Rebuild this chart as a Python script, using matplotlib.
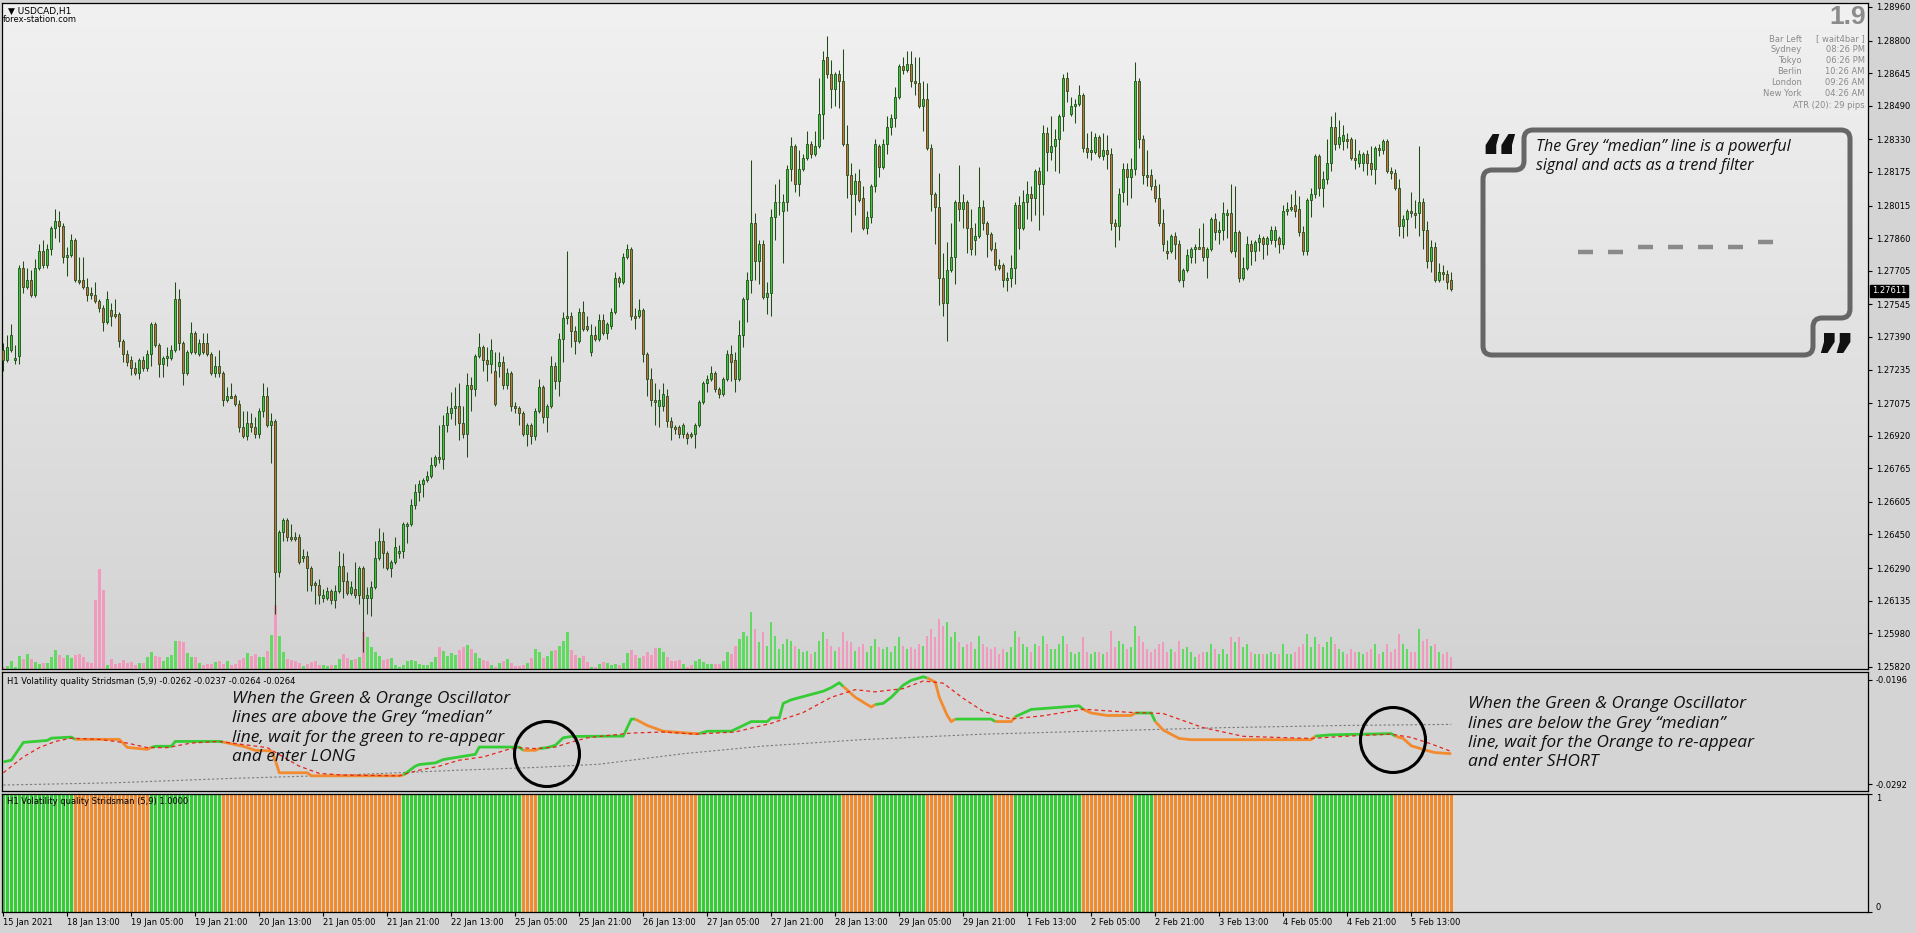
import numpy as np
import matplotlib
matplotlib.use('Agg')
import matplotlib.pyplot as plt
from matplotlib.transforms import Affine2D, blended_transform_factory
from matplotlib.patches import PathPatch, Circle
from matplotlib.path import Path
from matplotlib.lines import Line2D
import matplotlib.colors as mcolors

# ---------------- DATA (prices in pips above 1.2500) ----------------
BASE = 1.25
open_p = [
    233,228,233,228,230,272,263,266,259,272, 280,273,281,291,294,292,277,278,285,266,
    266,263,260,259,256,253,246,252,250,250, 237,231,228,224,222,228,224,231,245,235,
    226,229,229,233,257,236,222,232,241,231, 236,236,231,222,225,222,209,211,211,207,
    196,192,198,196,193,204,211,197,199,127, 146,152,144,144,144,134,135,129,122,121,
    115,115,118,114,118,130,123,117,119,116, 129,115,115,120,134,142,136,129,132,136,
    137,149,150,159,165,169,171,173,178,182, 181,197,203,205,206,198,193,216,214,230,
    234,228,226,223,225,227,216,222,206,205, 203,193,197,192,204,215,201,206,225,218,
    238,248,249,242,237,251,244,232,240,238, 247,241,244,251,267,265,277,281,249,249,
    252,231,219,209,206,206,211,199,196,196, 193,193,193,193,197,208,217,219,222,214,
    212,219,231,228,219,240,257,266,293,275, 283,258,260,296,303,299,303,319,330,312,
    319,324,331,326,330,345,372,364,357,364, 361,331,316,307,313,305,291,296,311,330,
    320,331,339,343,353,368,366,369,361,360, 349,352,329,307,301,267,255,271,277,303,
    300,303,291,285,287,301,293,288,281,273, 273,266,267,272,302,291,303,307,305,318,
    312,336,327,330,333,344,362,345,349,350, 354,329,327,327,334,325,328,326,293,292,
    308,319,315,319,361,333,316,316,311,305, 293,280,280,287,283,266,271,277,281,282,
    282,277,281,295,289,290,297,298,280,289, 267,272,283,280,284,286,283,285,285,286,
    283,299,300,302,300,289,280,304,307,325, 310,314,322,339,331,332,333,333,324,322,
    322,326,322,319,329,328,332,318,317,310, 292,295,299,298,298,303,290,275,282,266,
    270,269,266]
close_p = [
    228,234,240,229,272,263,266,259,272,280, 273,281,291,294,292,277,278,285,266,265,
    263,259,259,256,253,246,257,249,249,237, 231,227,224,222,228,224,231,245,235,226,
    229,230,233,257,236,222,232,241,232,236, 232,231,222,225,222,209,211,210,207,196,
    192,198,196,193,204,211,197,199,127,146, 152,144,143,143,132,135,129,121,121,116,
    116,118,114,118,130,123,117,120,116,129, 115,116,120,134,142,136,129,132,139,137,
    150,150,159,165,169,171,173,178,182,181, 197,203,205,206,198,193,216,214,230,234,
    228,226,233,207,227,216,222,206,205,203, 193,197,192,204,215,201,206,225,218,238,
    248,249,242,237,251,243,243,240,238,247, 241,245,251,267,265,277,281,249,248,252,
    231,219,209,208,209,212,199,196,195,193, 197,191,192,197,208,217,219,222,214,212,
    219,231,227,219,240,257,266,293,275,283, 258,260,296,303,303,303,319,330,312,319,
    324,331,326,330,345,371,364,357,364,361, 331,316,307,313,304,291,296,311,331,320,
    331,339,343,353,368,366,369,361,360,349, 352,329,307,301,267,255,271,277,303,300,
    303,291,281,287,301,293,288,281,273,272, 266,267,272,302,291,303,307,305,318,312,
    336,327,330,333,344,362,356,349,350,354, 329,327,328,334,325,328,326,293,292,307,
    319,315,319,361,333,316,315,311,305,293, 283,279,287,283,266,271,278,281,282,281,
    277,281,295,289,290,298,298,280,289,267, 272,283,280,284,286,283,286,290,290,283,
    299,300,301,299,289,280,304,307,325,310, 314,322,339,331,334,335,332,324,323,326,
    326,322,319,329,328,332,318,317,310,292, 295,299,298,297,303,290,275,282,266,270,
    269,265,262]
high_p = [
    236,240,245,235,273,275,272,271,276,283, 285,283,292,300,299,293,282,288,286,277,
    277,267,263,265,257,254,261,255,257,251, 238,233,230,227,229,230,233,246,246,236,
    230,234,235,265,262,237,233,246,242,238, 241,241,232,230,233,223,215,217,212,209,
    204,204,203,201,205,217,215,203,200,147, 153,153,150,146,145,138,137,130,123,124,
    119,120,119,121,137,136,127,123,132,130, 130,120,123,142,148,146,137,133,144,140,
    151,151,162,169,171,172,175,182,183,197, 202,206,213,215,217,206,222,220,231,241,
    235,234,238,232,232,230,224,223,208,206, 204,198,198,205,219,216,207,230,227,241,
    251,280,251,244,253,256,249,245,244,250, 250,246,253,270,268,279,283,282,253,257,
    253,232,224,217,214,217,214,201,197,197, 198,194,194,198,209,218,221,225,223,215,
    220,233,235,232,247,258,270,323,298,285, 285,265,300,312,314,307,321,334,331,328,
    326,337,332,337,362,375,382,371,365,366, 376,340,322,317,319,311,299,312,333,331,
    333,344,345,358,369,372,375,375,372,372, 361,360,331,308,317,279,284,293,304,321,
    307,304,300,293,320,304,294,289,284,276, 274,270,278,303,306,309,313,311,319,320,
    340,339,344,338,345,364,365,353,352,359, 355,336,337,336,335,336,335,329,295,310,
    322,322,324,370,362,335,328,319,314,312, 300,285,288,289,285,272,281,282,283,291,
    293,282,296,298,294,303,300,312,311,290, 277,287,285,285,288,287,287,292,292,287,
    302,303,307,309,306,292,305,310,326,326, 318,333,344,346,342,340,336,334,333,328,
    327,328,330,330,331,333,333,320,319,314, 297,300,308,304,330,305,294,285,284,274,
    273,271,270]
low_p = [
    223,227,232,226,226,260,262,258,258,271, 272,272,278,286,284,274,268,277,265,264,
    262,256,257,255,251,242,245,244,248,234, 227,225,221,221,219,223,223,225,234,220,
    220,225,228,232,233,216,221,231,231,230, 231,230,221,220,220,206,208,210,206,194,
    191,190,194,191,191,201,196,179,107,125, 142,142,142,142,131,132,118,118,112,112,
    113,114,112,110,117,115,116,116,115,112, 89,107,106,119,133,129,128,125,131,134,
    134,141,149,157,161,163,170,172,177,179, 176,194,200,197,190,191,182,204,211,229,
    223,218,222,206,220,214,214,204,203,197, 192,187,188,190,203,198,194,205,214,211,
    227,245,234,231,236,242,242,230,237,237, 240,238,243,250,263,264,276,247,243,248,
    227,211,206,197,196,204,196,190,193,191, 191,188,191,186,196,207,213,218,213,210,
    211,218,218,213,218,234,246,260,266,264, 257,250,249,285,297,274,299,313,308,306,
    318,323,324,325,329,333,362,348,349,348, 330,305,289,297,303,290,288,293,308,315,
    319,326,335,339,352,364,365,358,354,348, 337,328,299,283,254,249,237,270,264,294,
    291,279,278,278,286,290,277,280,271,271, 263,261,263,264,281,290,295,294,297,290,
    297,318,323,318,317,337,351,344,341,349, 327,324,323,326,324,323,319,290,282,285,
    303,302,305,316,329,312,311,309,303,292, 280,276,279,276,265,263,270,274,274,281,
    275,267,280,285,283,285,286,279,277,265, 266,271,273,275,280,276,278,283,282,279,
    281,297,299,296,287,278,278,296,305,306, 301,312,318,328,329,328,329,323,319,320,
    318,316,316,312,325,326,317,314,309,287, 286,287,296,291,287,281,272,270,265,265,
    266,262,261]
tick_volume = [
    5,8,25,7,40,30,45,30,22,15, 18,18,37,58,43,33,42,33,42,45,
    37,22,18,208,300,237,13,30,15,18, 27,18,22,13,18,18,37,50,40,35,
    25,35,43,85,85,80,48,37,37,18, 12,15,15,22,25,15,25,12,15,27,
    33,48,40,45,37,37,55,103,193,100, 52,30,27,25,18,10,15,22,25,13,
    12,10,12,13,30,45,33,27,30,37, 112,97,65,50,40,27,30,32,13,5,
    13,23,28,25,15,13,13,20,35,65, 53,38,47,43,57,65,73,60,47,32,
    28,25,13,5,18,23,30,18,10,10, 13,18,33,60,52,33,40,55,58,70,
    85,112,58,43,32,38,20,5,7,15, 22,18,13,15,13,18,47,58,43,32,
    40,50,43,62,62,50,35,25,23,28, 15,7,13,25,30,22,15,15,15,15,
    25,52,45,70,90,110,100,170,120,80, 110,70,140,100,60,75,90,85,70,60,
    50,55,45,50,85,110,90,70,55,65, 110,85,80,55,65,75,50,70,90,65,
    60,65,50,70,95,70,60,65,60,75, 70,100,120,95,150,130,140,95,110,80,
    65,75,80,60,100,75,65,60,65,45, 60,50,65,115,95,75,65,50,75,70,
    100,75,60,60,75,100,75,50,45,50, 95,50,45,50,50,45,50,115,65,85,
    75,60,65,130,100,80,60,50,60,75, 80,50,60,50,85,60,65,50,35,45,
    50,50,75,60,45,60,45,95,80,95, 65,75,50,45,45,45,45,50,45,45,
    75,45,45,50,65,75,105,65,95,75, 65,80,95,75,60,50,45,60,50,50,
    45,50,60,75,45,50,75,50,60,105, 75,60,50,50,120,85,90,70,75,50,
    45,50,35]

price_ticks = [1.28960, 1.28800, 1.28645, 1.28490, 1.28330, 1.28175, 1.28015,
               1.27860, 1.27705, 1.27545, 1.27390, 1.27235, 1.27075, 1.26920,
               1.26765, 1.26605, 1.26450, 1.26290, 1.26135, 1.25980, 1.25820]
current_price = 1.27611

# Oscillator (Volatility quality Stridsman) – vertices (bar index, value)
osc_idx = [0, 2, 4, 5, 11, 12, 17,
           18, 29, 31, 36,
           37, 38, 42, 43, 54,
           55, 60, 63, 67, 68, 69, 76, 77, 99,
           100, 103, 104, 108, 110, 118, 119, 129,
           130, 133,
           134, 136, 138, 140, 142, 155, 157,
           158, 161, 165, 173,
           174, 176, 182, 187, 191, 192, 194, 195, 197, 205, 207, 209,
           210, 213, 217,
           218, 220, 222, 225, 227, 230,
           231, 233, 234, 236, 237,
           238, 247,
           248, 252,
           253, 257, 265, 269,
           270, 272, 276, 282,
           283, 287,
           288, 290, 294, 297, 327,
           328, 332, 347,
           348, 350, 352, 356, 358, 362]
osc_val = [-0.02716, -0.02700, -0.02591, -0.02536, -0.02518, -0.02497, -0.02487,
           -0.02508, -0.02508, -0.02582, -0.02600,
           -0.02582, -0.02572, -0.02572, -0.02527, -0.02527,
           -0.02533, -0.02572, -0.02609, -0.02615, -0.02700, -0.02816, -0.02816, -0.02844, -0.02844,
           -0.02837, -0.02755, -0.02740, -0.02725, -0.02694, -0.02646, -0.02579, -0.02579,
           -0.02609, -0.02609,
           -0.02593, -0.02584, -0.02563, -0.02493, -0.02481, -0.02478, -0.02321,
           -0.02321, -0.02380, -0.02433, -0.02455,
           -0.02455, -0.02433, -0.02433, -0.02344, -0.02344, -0.02310, -0.02310, -0.02176,
           -0.02143, -0.02064, -0.02031, -0.01986,
           -0.02020, -0.02120, -0.02210,
           -0.02187, -0.02176, -0.02120, -0.02008, -0.01964, -0.01931,
           -0.01942, -0.01980, -0.02120, -0.02288, -0.02344,
           -0.02321, -0.02321,
           -0.02344, -0.02344,
           -0.02299, -0.02232, -0.02210, -0.02199,
           -0.02232, -0.02265, -0.02288, -0.02288,
           -0.02265, -0.02265,
           -0.02344, -0.02422, -0.02500, -0.02511, -0.02511,
           -0.02478, -0.02466, -0.02455,
           -0.02478, -0.02500, -0.02567, -0.02612, -0.02630, -0.02640]
# trend state runs (first bar of each run; alternating up / down)
run_start = [0, 18, 37, 55, 100, 130, 134, 158, 174, 210, 218, 231, 238, 248,
             253, 270, 283, 288, 328, 348]
run_state = ['up', 'down'] * 10

sig_idx = [0, 5, 9, 13, 17, 24, 31, 36, 41, 47, 54, 57, 66, 70, 74, 79, 85, 99, 101,
           104, 109, 114, 120, 126, 129, 133, 138, 142, 146, 149, 157, 165, 173, 183,
           192, 200, 207, 213, 218, 225, 230, 235, 240, 245, 252, 260, 270, 282, 290,
           300, 310, 327, 335, 347, 352, 357, 362]
sig_val = [-0.02816, -0.0267, -0.02584, -0.02527, -0.02497, -0.02508, -0.02542, -0.02584,
           -0.02584, -0.02542, -0.02527, -0.02542, -0.02584, -0.0267, -0.02755, -0.02822,
           -0.02837, -0.02844, -0.02822, -0.02792, -0.02755, -0.0270, -0.0267, -0.02603,
           -0.02584, -0.02593, -0.02579, -0.02533, -0.02494, -0.02481, -0.0245, -0.0244,
           -0.0246, -0.0244, -0.0236, -0.0226, -0.0212, -0.0205, -0.0207, -0.0204, -0.0197,
           -0.0199, -0.0213, -0.0225, -0.0232, -0.0229, -0.0223, -0.0226, -0.0227, -0.0240,
           -0.0248, -0.0250, -0.0248, -0.0246, -0.0249, -0.0255, -0.0262]
med_idx = [0, 28, 57, 85, 114, 133, 149, 170, 190, 215, 245, 275, 305, 335, 362]
med_val = [-0.02929, -0.02908, -0.02868, -0.02837, -0.02792, -0.02767, -0.02737,
           -0.0264, -0.0257, -0.0251, -0.0246, -0.0243, -0.0240, -0.0238, -0.0237]

time_labels = ['15 Jan 2021', '18 Jan 13:00', '19 Jan 05:00', '19 Jan 21:00',
               '20 Jan 13:00', '21 Jan 05:00', '21 Jan 21:00', '22 Jan 13:00',
               '25 Jan 05:00', '25 Jan 21:00', '26 Jan 13:00', '27 Jan 05:00',
               '27 Jan 21:00', '28 Jan 13:00', '29 Jan 05:00', '29 Jan 21:00',
               '1 Feb 13:00', '2 Feb 05:00', '2 Feb 21:00', '3 Feb 13:00',
               '4 Feb 05:00', '4 Feb 21:00', '5 Feb 13:00']
label_every = 16

# ---------------- FIGURE ----------------
W, H = 1916, 933
fig = plt.figure(figsize=(W / 100, H / 100), dpi=100)
fig.patch.set_facecolor('#d4d4d4')
PX = Affine2D().scale(1.0 / W, -1.0 / H).translate(0, 1) + fig.transFigure


def rect(top, bottom):
    return [2 / W, 1 - bottom / H, 1866 / W, (bottom - top) / H]


def rounded_path(pts, r):
    verts, codes = [], []
    m = len(pts)
    for k in range(m):
        p0 = np.array(pts[k - 1], float)
        p1 = np.array(pts[k], float)
        p2 = np.array(pts[(k + 1) % m], float)
        d1 = (p0 - p1) / np.linalg.norm(p0 - p1)
        d2 = (p2 - p1) / np.linalg.norm(p2 - p1)
        a = p1 + d1 * r
        b = p1 + d2 * r
        verts.append(a)
        codes.append(Path.MOVETO if k == 0 else Path.LINETO)
        verts += [p1, b]
        codes += [Path.CURVE3, Path.CURVE3]
    verts.append(verts[0])
    codes.append(Path.CLOSEPOLY)
    return Path(verts, codes)


XLIM = (-0.325, 466.2)
n = len(close_p)
xi = np.arange(n)
o = BASE + np.array(open_p) / 1e4
c = BASE + np.array(close_p) / 1e4
h = np.maximum.reduce([BASE + np.array(high_p) / 1e4, o, c])
l = np.minimum.reduce([BASE + np.array(low_p) / 1e4, o, c])
bull = c >= o

BULL = '#3cc83c'
BEAR = '#cc6f3e'
EDGE = '#1f4d17'
GREEN = '#35cc35'
ORANGE = '#f28a2e'

# volume layer with gradient background
axv = fig.add_axes(rect(3, 669))
grad = np.linspace(0, 1, 256).reshape(-1, 1)
cmap = mcolors.LinearSegmentedColormap.from_list('bg', ['#f1f1f1', '#d3d3d3'])
axv.imshow(grad, extent=[0, 1, 0, 1], transform=axv.transAxes, cmap=cmap,
           aspect='auto', zorder=0, interpolation='bilinear')
axv.bar(xi, tick_volume, width=0.62, color=np.where(bull, '#62da62', '#f09abd'),
        edgecolor='none', zorder=2)
axv.set_xlim(XLIM)
axv.set_ylim(0, 1998)
axv.axis('off')

# candles
ax = fig.add_axes(rect(3, 669))
ax.set_facecolor('none')
ax.vlines(xi, l, h, color=EDGE, lw=0.75, zorder=2)
ax.bar(xi, np.abs(c - o), bottom=np.minimum(o, c), width=0.55,
       color=np.where(bull, BULL, BEAR), edgecolor=EDGE, linewidth=0.6, zorder=3)
ax.set_xlim(XLIM)
ax.set_ylim(1.25810, 1.28979)
ax.yaxis.tick_right()
ax.set_yticks(price_ticks)
ax.set_yticklabels([f'{v:.5f}' for v in price_ticks])
ax.tick_params(axis='y', direction='out', length=3, width=0.8, pad=2.5,
               labelsize=6, colors='black')
ax.set_xticks([])
for s in ax.spines.values():
    s.set_color('black')
    s.set_linewidth(0.9)

trp = blended_transform_factory(PX, ax.transData)
ax.text(1872, current_price, f'{current_price:.5f}', transform=trp, ha='left',
        va='center', fontsize=6, color='white', zorder=10, clip_on=False,
        bbox=dict(boxstyle='square,pad=0.18', fc='black', ec='black'))

# oscillator panel
ax2 = fig.add_axes(rect(672, 791))
ax2.set_facecolor('#d4d4d4')
ax2.plot(med_idx, med_val, color='#7a7a7a', lw=0.8, ls=(0, (2, 2)), zorder=2)
oi = np.array(osc_idx)
ov = np.array(osc_val)
for k, a in enumerate(run_start):
    b = run_start[k + 1] if k + 1 < len(run_start) else n - 1
    m = (oi >= a) & (oi <= b)
    ax2.plot(oi[m], ov[m], color=GREEN if run_state[k] == 'up' else ORANGE,
             lw=2.0, zorder=3, solid_capstyle='butt')
ax2.plot(sig_idx, sig_val, color='#e5261d', lw=0.9, ls=(0, (3, 2.5)), zorder=4)
ax2.set_xlim(XLIM)
ax2.set_ylim(-0.02984, -0.01887)
ax2.yaxis.tick_right()
ax2.set_yticks([-0.0196, -0.0292])
ax2.set_yticklabels(['-0.0196', '-0.0292'])
ax2.tick_params(axis='y', direction='out', length=3, width=0.8, pad=2.5,
                labelsize=6, colors='black')
ax2.set_xticks([])
for s in ax2.spines.values():
    s.set_color('black')
    s.set_linewidth(0.9)

# state histogram panel
ax3 = fig.add_axes(rect(794, 912))
ax3.set_facecolor('#dadada')
state = np.empty(n, dtype=object)
for k, a in enumerate(run_start):
    b = run_start[k + 1] if k + 1 < len(run_start) else n
    state[a:b] = run_state[k]
ax3.bar(xi, np.ones(n), width=0.74, color=[GREEN if s == 'up' else ORANGE for s in state],
        zorder=2)
ax3.set_xlim(XLIM)
ax3.set_ylim(0, 1)
ax3.yaxis.tick_right()
ax3.set_yticks([0, 1])
ax3.set_yticklabels(['0', '1'])
ax3.tick_params(axis='y', direction='out', length=3, width=0.8, pad=2.5,
                labelsize=6, colors='black')
yl = ax3.get_yticklabels()
yl[0].set_va('bottom')
yl[1].set_va('top')
ax3.set_xticks(np.arange(len(time_labels)) * label_every)
ax3.set_xticklabels(time_labels, ha='left')
ax3.tick_params(axis='x', direction='out', length=3, width=0.8, pad=1.5,
                labelsize=6, colors='black')
for s in ax3.spines.values():
    s.set_color('black')
    s.set_linewidth(0.9)

# ---------------- TEXT / ANNOTATIONS ----------------
fig.text(8, 11, '\u25BC USDCAD,H1', transform=PX, fontsize=6.5, va='center', ha='left')
fig.text(3, 19.5, 'forex-station.com', transform=PX, fontsize=6, va='center', ha='left')

fig.text(1866, 17, '1.9', transform=PX, fontsize=19, fontweight='bold',
         family='Liberation Sans', color='#8c8c8c', ha='right', va='center')
info_left = ['Bar Left', 'Sydney', 'Tokyo', 'Berlin', 'London', 'New York']
info_right = ['[ wait4bar ]', '08:26 PM', '06:26 PM', '10:26 AM', '09:26 AM', '04:26 AM']
for k, (a, b) in enumerate(zip(info_left, info_right)):
    yy = 39 + k * 10.9
    fig.text(1802, yy, a, transform=PX, fontsize=6, color='#8a8a8a', ha='right', va='center')
    fig.text(1865, yy, b, transform=PX, fontsize=6, color='#8a8a8a', ha='right', va='center')
fig.text(1865, 105, 'ATR (20): 29 pips', transform=PX, fontsize=6, color='#8a8a8a',
         ha='right', va='center')

fig.text(7, 681, 'H1 Volatility quality Stridsman (5,9) -0.0262 -0.0237 -0.0264 -0.0264',
         transform=PX, fontsize=6, va='center', ha='left')
fig.text(7, 802, 'H1 Volatility quality Stridsman (5,9) 1.0000',
         transform=PX, fontsize=6, va='center', ha='left', zorder=10)

# quote box
box_pts = [(1483, 170), (1524, 170), (1524, 130), (1850, 130), (1850, 318),
           (1813, 318), (1813, 355), (1483, 355)]
fig.add_artist(PathPatch(rounded_path(box_pts, 9), transform=PX, fill=False,
                         edgecolor='#666666', lw=3.6, joinstyle='round'))
fig.text(1478, 132, '\u201C', transform=PX, fontsize=46, fontweight='heavy',
         color='#111111', ha='left', va='top')
fig.text(1814, 331, '\u201D', transform=PX, fontsize=46, fontweight='heavy',
         color='#111111', ha='left', va='top')
QFONT = dict(family='Open Sans', style='italic', fontsize=11.5, color='#111111')
NFONT = dict(family='Open Sans', style='italic', fontsize=12.5, color='#111111')
fig.text(1536, 147, 'The Grey \u201Cmedian\u201D line is a powerful', transform=PX,
         va='center', ha='left', **QFONT)
fig.text(1536, 166.5, 'signal and acts as a trend filter', transform=PX,
         va='center', ha='left', **QFONT)
for (x0, x1, yy) in [(1578, 1593, 252), (1608, 1623, 252), (1638, 1653, 247),
                     (1668, 1683, 247), (1698, 1713, 247), (1728, 1743, 247),
                     (1758, 1773, 242)]:
    fig.add_artist(Line2D([x0, x1], [yy, yy], transform=PX, color='#8a8a8a',
                          lw=3.2, solid_capstyle='butt'))

left_note = ['When the Green & Orange Oscillator', 'lines are above the Grey \u201Cmedian\u201D',
             'line, wait for the green to re-appear', 'and enter LONG']
right_note = ['When the Green & Orange Oscillator', 'lines are below the Grey \u201Cmedian\u201D',
              'line, wait for the Orange to re-appear', 'and enter SHORT']
for k, t in enumerate(left_note):
    fig.text(232, 699 + k * 19.3, t, transform=PX, va='center', ha='left', **NFONT)
for k, t in enumerate(right_note):
    fig.text(1468, 704.5 + k * 19.3, t, transform=PX, va='center', ha='left', **NFONT)

for (cx, cy) in [(547, 754), (1393, 740)]:
    fig.add_artist(Circle((cx, cy), 32.5, transform=PX, fill=False,
                          edgecolor='black', lw=2.2))

fig.savefig('out.png', dpi=100, facecolor=fig.get_facecolor())
